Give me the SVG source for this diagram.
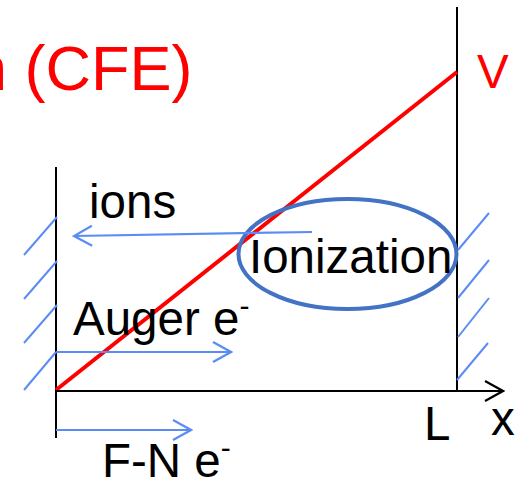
<svg xmlns="http://www.w3.org/2000/svg" width="520" height="481" viewBox="0 0 520 481">
  <style>
    .txt { font-family: "Liberation Sans", Arial, sans-serif; font-size: 47.5px; fill: #000; }
    .red { fill: #FF0000; }
    .title { font-size: 63px; }
    .sup { font-size: 30px; }
    .wall { stroke: #000; stroke-width: 2; fill: none; }
    .hatch { stroke: #5B8CF5; stroke-width: 2; fill: none; }
    .flow { stroke: #5B8CF5; stroke-width: 2.2; fill: none; marker-end: url(#headBlue); }
  </style>
  <defs>
    <marker id="headBlue" viewBox="0 0 22 24" refX="20" refY="12" markerWidth="22" markerHeight="24" markerUnits="userSpaceOnUse" orient="auto">
      <path d="M2,2 L20,12 L2,22" fill="none" stroke="#5B8CF5" stroke-width="2.2"/>
    </marker>
    <marker id="headBlack" viewBox="0 0 22 24" refX="20" refY="12" markerWidth="22" markerHeight="24" markerUnits="userSpaceOnUse" orient="auto">
      <path d="M2,2 L20,12 L2,22" fill="none" stroke="#000" stroke-width="2.2"/>
    </marker>
  </defs>

  <g id="title">
    <text class="txt red title" x="-28" y="90">n (CFE)</text>
  </g>

  <g id="walls">
    <line class="wall" x1="56" y1="167" x2="56" y2="438"/>
    <line class="wall" x1="457" y1="7" x2="457" y2="391"/>
  </g>

  <g id="hatching">
    <line class="hatch" x1="57" y1="217" x2="24" y2="255"/>
    <line class="hatch" x1="57" y1="261" x2="24" y2="299"/>
    <line class="hatch" x1="57" y1="305" x2="24" y2="343"/>
    <line class="hatch" x1="56" y1="352" x2="24" y2="390"/>
    <line class="hatch" x1="458" y1="250" x2="489" y2="213"/>
    <line class="hatch" x1="458" y1="298" x2="489" y2="260"/>
    <line class="hatch" x1="458" y1="337" x2="489" y2="298"/>
    <line class="hatch" x1="457" y1="380" x2="488" y2="343"/>
  </g>

  <g id="potential">
    <line x1="56" y1="390" x2="457" y2="72" stroke="#FF0000" stroke-width="4"/>
    <text class="txt red" x="477" y="88">V</text>
  </g>

  <g id="ionization">
    <ellipse cx="347.5" cy="254" rx="109" ry="55" fill="none" stroke="#4472C4" stroke-width="4"/>
    <text class="txt" x="249" y="273">Ionization</text>
  </g>

  <g id="connectors">
    <line class="wall" x1="56" y1="391" x2="503" y2="391" marker-end="url(#headBlack)"/>
    <line class="flow" x1="312" y1="232" x2="74" y2="236"/>
    <line class="flow" x1="56" y1="352" x2="231" y2="352"/>
    <line class="flow" x1="56" y1="430" x2="191" y2="430"/>
  </g>

  <g id="labels">
    <text class="txt" x="89" y="218">ions</text>
    <text class="txt" x="73" y="335">Auger e<tspan class="sup" dy="-19">-</tspan></text>
    <text class="txt" x="102" y="477">F-N e<tspan class="sup" dy="-19">-</tspan></text>
    <text class="txt" x="424" y="440">L</text>
    <text class="txt" x="491" y="435">x</text>
  </g>
</svg>
